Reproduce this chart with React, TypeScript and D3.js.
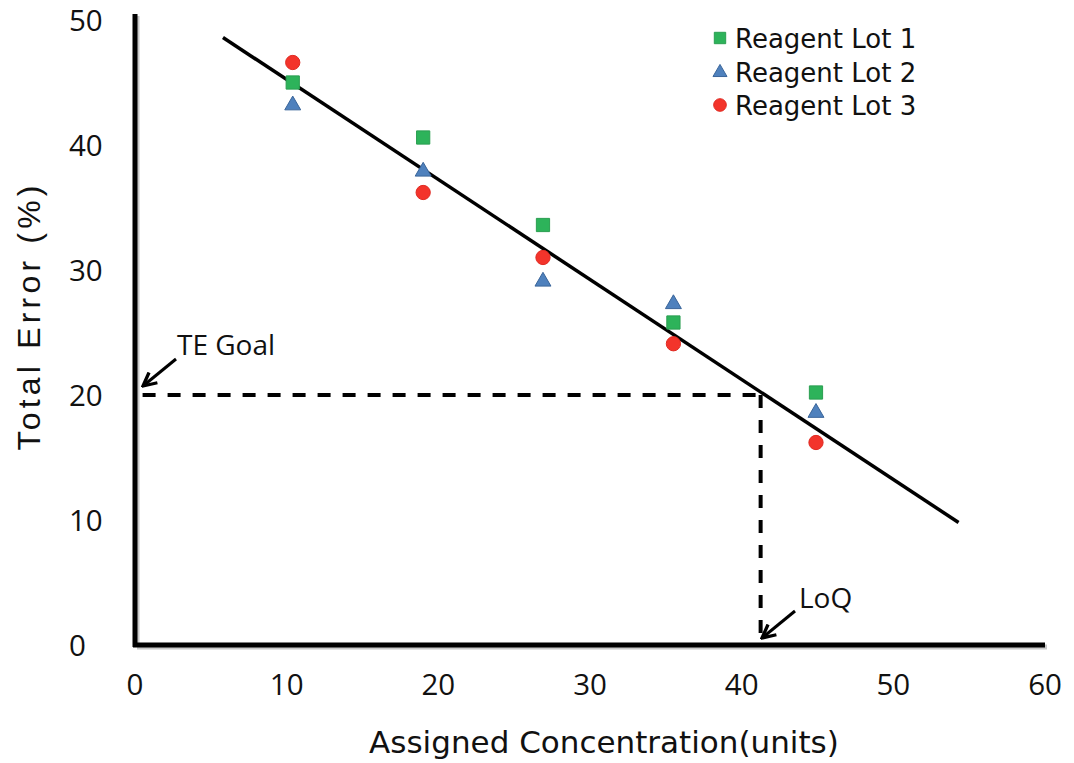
import React from "react";
import * as d3 from "d3";

const xTicks = [0, 10, 20, 30, 40, 50, 60];
const yTicks = [0, 10, 20, 30, 40, 50];
const concentrations = [10.4, 19.0, 26.9, 35.5, 44.9];
const lot1 = [45.0, 40.6, 33.6, 25.8, 20.2];
const lot2 = [43.3, 38.0, 29.2, 27.4, 18.7];
const lot3 = [46.6, 36.2, 31.0, 24.1, 16.2];
const seriesNames = ["Reagent Lot 1", "Reagent Lot 2", "Reagent Lot 3"];
const fitLine = [
  { x: 5.8, y: 48.6 },
  { x: 54.3, y: 9.8 },
];
const teGoal = 20;
const loq = 41.25;

const W = 1074;
const H = 763;

export default function App() {
  const x = d3.scaleLinear().domain([0, 60]).range([135, 1045]);
  const y = d3.scaleLinear().domain([0, 50]).range([645, 20]);

  const colors = ["#2db35a", "#4f81bd", "#f3342b"];
  const strokes = ["#2a9e50", "#3a659a", "#e02a22"];
  const symbols = [d3.symbolSquare, d3.symbolTriangle, d3.symbolCircle];
  const sizes = [175, 110, 160];
  const legendSizes = [130, 85, 125];
  const allSeries = [lot1, lot2, lot3];

  const line = d3
    .line<{ x: number; y: number }>()
    .x((d) => x(d.x))
    .y((d) => y(d.y));

  const sym = (i: number, s: number) => d3.symbol().type(symbols[i]).size(s)()!;

  const dejavu = "'DejaVu Sans', sans-serif";
  const open = "'Open Sans', sans-serif";

  return (
    <svg
      width={W}
      height={H}
      viewBox={`0 0 ${W} ${H}`}
      style={{ position: "absolute", left: 0, top: 0, background: "#fff" }}
    >
      <defs>
        <marker
          id="arr"
          viewBox="0 0 10 10"
          refX="9"
          refY="5"
          markerWidth="5.5"
          markerHeight="5.5"
          orient="auto"
          markerUnits="strokeWidth"
        >
          <path d="M1,1 L9,5 L1,9" fill="none" stroke="#000" strokeWidth="2" />
        </marker>
      </defs>

      {/* axis shadows */}
      <line x1={x(0) + 2} y1={14 + 2} x2={x(0) + 2} y2={y(0) + 2} stroke="#c8c8c8" strokeWidth={5} />
      <line x1={x(0) + 2} y1={y(0) + 2} x2={x(60) + 2} y2={y(0) + 2} stroke="#c8c8c8" strokeWidth={5} />
      {/* axes */}
      <line x1={x(0)} y1={14} x2={x(0)} y2={y(0) + 2} stroke="#000" strokeWidth={5} />
      <line x1={x(0) - 2} y1={y(0)} x2={x(60)} y2={y(0)} stroke="#000" strokeWidth={5} />

      {/* y tick labels */}
      {yTicks.map((t) => (
        <text
          key={"y" + t}
          x={69}
          y={y(t) + 11}
          fontFamily={open}
          fontSize={29.5}
          fill="#111"
          textAnchor="start"
        >
          {t}
        </text>
      ))}

      {/* x tick labels */}
      {xTicks.map((t) => (
        <text
          key={"x" + t}
          x={x(t)}
          y={695}
          fontFamily={open}
          fontSize={29.5}
          fill="#111"
          textAnchor="middle"
        >
          {t}
        </text>
      ))}

      {/* axis titles */}
      <text
        x={604}
        y={753}
        fontFamily={dejavu}
        fontSize={31}
        fill="#111"
        textAnchor="middle"
      >
        Assigned Concentration(units)
      </text>
      <text
        transform={`translate(40, 318) rotate(-90)`}
        fontFamily="'Liberation Sans', Arial, sans-serif"
        fontSize={32}
        fill="#111"
        textAnchor="middle"
        textLength={265}
        lengthAdjust="spacing"
      >
        Total Error (%)
      </text>

      {/* dashed guide lines */}
      <line
        x1={x(0.5)}
        y1={y(teGoal)}
        x2={x(loq)}
        y2={y(teGoal)}
        stroke="#000"
        strokeWidth={4}
        strokeDasharray="13,12"
      />
      <line
        x1={x(loq)}
        y1={y(teGoal)}
        x2={x(loq)}
        y2={y(0) - 3}
        stroke="#000"
        strokeWidth={4}
        strokeDasharray="13,12"
      />

      {/* regression line */}
      <path d={line(fitLine)!} fill="none" stroke="#000" strokeWidth={3.5} />

      {/* points */}
      {allSeries.map((vals, si) =>
        vals.map((v, i) => (
          <path
            key={si + "-" + i}
            d={sym(si, sizes[si])}
            transform={`translate(${x(concentrations[i])},${y(v) + (si === 1 ? 1.5 : 0)})`}
            fill={colors[si]}
            stroke={strokes[si]}
            strokeWidth={1}
          />
        ))
      )}

      {/* annotations */}
      <text x={177} y={355} fontFamily={open} fontSize={28} fill="#111">
        TE Goal
      </text>
      <line x1={176} y1={359} x2={143} y2={386} stroke="#000" strokeWidth={3} markerEnd="url(#arr)" />
      <text x={799} y={608} fontFamily={open} fontSize={28} fill="#111">
        LoQ
      </text>
      <line x1={795} y1={611} x2={762} y2={638} stroke="#000" strokeWidth={3} markerEnd="url(#arr)" />

      {/* legend */}
      {seriesNames.map((n, i) => (
        <g key={n} transform={`translate(720, ${38 + i * 33.5})`}>
          <path
            d={sym(i, legendSizes[i])}
            transform={i === 1 ? "translate(0,1)" : undefined}
            fill={colors[i]}
            stroke={strokes[i]}
            strokeWidth={1}
          />
          <text x={15} y={10} fontFamily={dejavu} fontSize={26} fill="#111">
            {n}
          </text>
        </g>
      ))}
    </svg>
  );
}
